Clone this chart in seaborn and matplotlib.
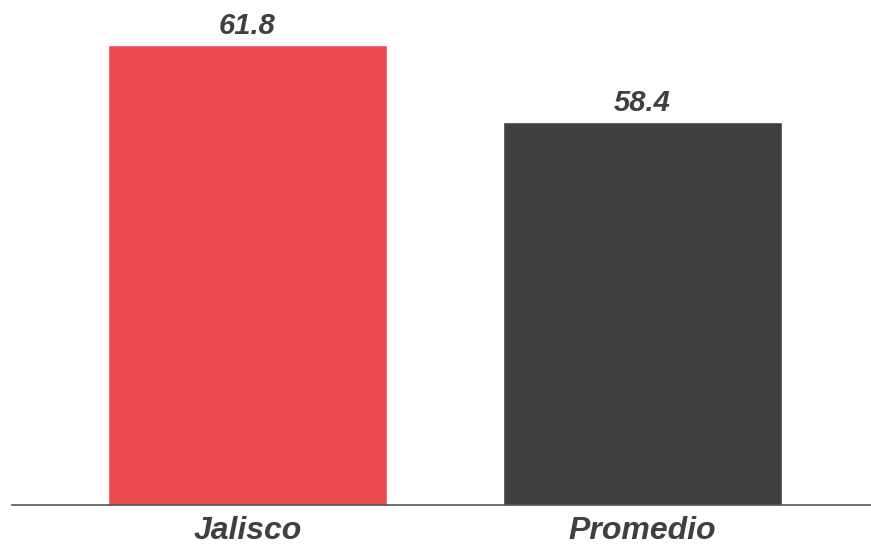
import matplotlib
matplotlib.use("Agg")
import matplotlib.pyplot as plt
import seaborn as sns
import pandas as pd

# Datos
categorias = ["Jalisco", "Promedio"]
valores = [61.8, 58.4]
colores = ["#EA4B51", "#404040"]

TEXT_COLOR = "#404040"

sns.set_style("white")
plt.rcParams["font.family"] = ["Liberation Sans", "DejaVu Sans"]

df = pd.DataFrame({"categoria": categorias, "valor": valores})

fig = plt.figure(figsize=(8.71, 5.46), dpi=100)
ax = fig.add_axes([12 / 871, 41 / 546, 1 - 12 / 871, 1 - 41 / 546])

sns.barplot(data=df, x="categoria", y="valor", hue="categoria",
            palette=colores, width=0.705, legend=False, ax=ax, saturation=1)

for i, v in enumerate(valores):
    ax.text(i, v + 0.22, f"{v:.1f}", ha="center", va="bottom",
            fontsize=21, fontweight="bold", fontstyle="italic", color=TEXT_COLOR)

ax.set_ylim(41.4, 63.8)
ax.set_xlim(-0.596, 1.578)
ax.set_xlabel("")
ax.set_ylabel("")
ax.set_yticks([])
ax.tick_params(axis="x", length=0, pad=8)
for lbl in ax.get_xticklabels():
    lbl.set_fontsize(23)
    lbl.set_fontweight("bold")
    lbl.set_fontstyle("italic")
    lbl.set_color(TEXT_COLOR)

for s in ["top", "right", "left"]:
    ax.spines[s].set_visible(False)
ax.spines["bottom"].set_color("#555555")
ax.spines["bottom"].set_linewidth(1.2)

fig.savefig("out.png", dpi=100)
